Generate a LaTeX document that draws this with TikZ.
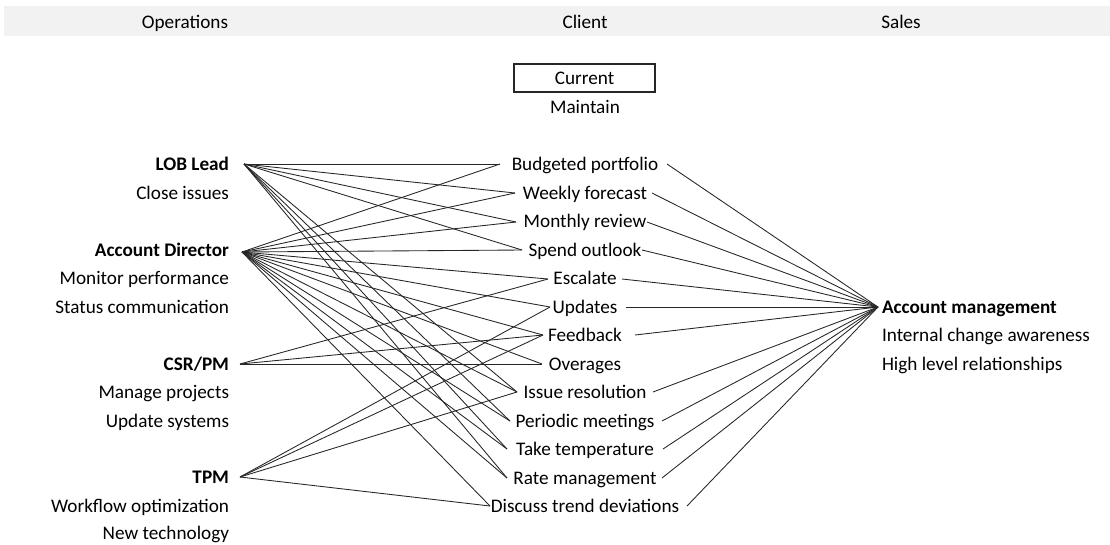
\documentclass[tikz,border=0pt]{standalone}
\usepackage{fontspec}
\setmainfont{Carlito}
\definecolor{band}{HTML}{F2F2F2}
\definecolor{ink}{HTML}{262626}
\begin{document}
\begin{tikzpicture}[x=0.75pt,y=-0.75pt,
  txt/.style={inner sep=0pt, outer sep=0pt, text=black, font=\fontsize{14.4}{17}\selectfont},
  head/.style={txt, anchor=base},
  role/.style={txt, anchor=base east, font=\fontsize{14.4}{17}\selectfont\bfseries},
  duty/.style={txt, anchor=base east},
  item/.style={txt, anchor=base},
  sales/.style={txt, anchor=base west, font=\fontsize{14.4}{17}\selectfont\bfseries},
  salesduty/.style={txt, anchor=base west},
  link/.style={draw=ink, line width=0.65pt}]
\useasboundingbox (0,0) rectangle (1110,544);

% column header band
\fill[band] (4,6) rectangle (1110,36);
\node[head] (hops) at (185,28.5) {Operations};
\node[head] (hcli) at (585,28.5) {Client};
\node[head] (hsal) at (901,28.5) {Sales};

% client state
\node[txt, draw=ink, line width=0.8pt, minimum width=105.75pt, minimum height=21pt] (cur) at (584.5,78) {Current};
\node[item] (maint) at (585,113.5) {Maintain};

% operations roles
\node[role] (tlob) at (229,170.5) {LOB Lead};
\node[duty] (dlob1) at (229,199.5) {Close issues};
\node[role] (tad) at (229,256.5) {Account Director};
\node[duty] (dad1) at (229,284.5) {Monitor performance};
\node[duty] (dad2) at (229,313.5) {Status communication};
\node[role] (tcsr) at (229,370.5) {CSR/PM};
\node[duty] (dcsr1) at (229,398.5) {Manage projects};
\node[duty] (dcsr2) at (229,427.5) {Update systems};
\node[role] (ttpm) at (229,483.5) {TPM};
\node[duty] (dtpm1) at (229,512.5) {Workflow optimization};
\node[duty] (dtpm2) at (229,539) {New technology};

% sales role
\node[sales] (tam) at (882,313.5) {Account management};
\node[salesduty] (dam1) at (882,341.5) {Internal change awareness};
\node[salesduty] (dam2) at (882,370.5) {High level relationships};

% client activities
\node[item] (bp) at (585,170.5) {Budgeted portfolio};
\node[item] (wf) at (585,199.5) {Weekly forecast};
\node[item] (mr) at (585,227.5) {Monthly review};
\node[item] (so) at (585,256.5) {Spend outlook};
\node[item] (es) at (585,284.5) {Escalate};
\node[item] (up) at (585,313.5) {Updates};
\node[item] (fb) at (585,341.5) {Feedback};
\node[item] (ov) at (585,370.5) {Overages};
\node[item] (ir) at (585,398.5) {Issue resolution};
\node[item] (pm) at (585,427.5) {Periodic meetings};
\node[item] (tt) at (585,455.5) {Take temperature};
\node[item] (rm) at (585,484.5) {Rate management};
\node[item] (dt) at (585,512.5) {Discuss trend deviations};

% connection ports
\coordinate (lob) at (244,164);
\coordinate (ad)  at (242,252);
\coordinate (csr) at (240,364);
\coordinate (tpm) at (240,477);
\coordinate (am)  at (878,307);

\coordinate (bp-l) at (500,164); \coordinate (bp-r) at (667,164);
\coordinate (wf-l) at (515,193); \coordinate (wf-r) at (652,193);
\coordinate (mr-l) at (516,222); \coordinate (mr-r) at (647,222);
\coordinate (so-l) at (522,250); \coordinate (so-r) at (642,250);
\coordinate (es-l) at (548,279); \coordinate (es-r) at (622,279);
\coordinate (up-l) at (550,307); \coordinate (up-r) at (626,307);
\coordinate (fb-l) at (543,335); \coordinate (fb-r) at (635,335);
\coordinate (ov-l) at (542,364);
\coordinate (ir-l) at (517,392); \coordinate (ir-r) at (653,392);
\coordinate (pm-l) at (510,421); \coordinate (pm-r) at (662,421);
\coordinate (tt-l) at (507,449); \coordinate (tt-r) at (663,449);
\coordinate (rm-l) at (507,478); \coordinate (rm-r) at (662,478);
\coordinate (dt-l) at (490,506); \coordinate (dt-r) at (687,506);

% operations to client
\foreach \t in {bp,wf,mr,so,ir,pm,tt,rm}
  \draw[link] (lob) -- (\t-l);
\foreach \t in {bp,wf,mr,so,es,up,fb,ov,ir,pm,tt,rm,dt}
  \draw[link] (ad) -- (\t-l);
\foreach \t in {es,fb,ov}
  \draw[link] (csr) -- (\t-l);
\foreach \t in {up,fb,ir,dt}
  \draw[link] (tpm) -- (\t-l);

% client to sales
\foreach \t in {bp,wf,mr,so,es,up,fb,ir,pm,tt,rm,dt}
  \draw[link] (\t-r) -- (am);
\end{tikzpicture}
\end{document}
